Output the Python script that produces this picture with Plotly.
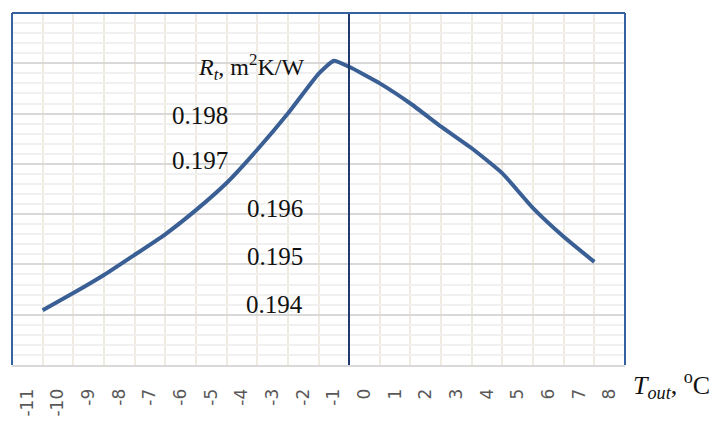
import plotly.graph_objects as go

# Tick categories along the temperature axis
t_labels = [-11, -10, -9, -8, -7, -6, -5, -4, -3, -2, -1, 0, 1, 2, 3, 4, 5, 6, 7, 8]

# Curve (x in label units, label centred on integers)
t_out = [-10.5, -9.5, -8.5, -7.5, -6.5, -5.5, -4.5, -3.5, -2.5, -1.5, -1.0,
         -0.5, 0.5, 1.5, 2.5, 3.5, 4.5, 5.5, 6.5, 7.5]
r_t = [0.19409, 0.19443, 0.19479, 0.19519, 0.19560, 0.19608, 0.19662, 0.19728,
       0.19800, 0.19879, 0.19905, 0.19893, 0.19860, 0.19820, 0.19774, 0.19731,
       0.19681, 0.19612, 0.19555, 0.19505]

# Hand-placed value labels
y_label_vals = [0.198, 0.197, 0.196, 0.195, 0.194]
y_label_text = ["0.198", "0.197", "0.196", "0.195", "0.194"]

fig = go.Figure()
fig.add_trace(go.Scatter(
    x=t_out, y=r_t, mode="lines",
    line=dict(color="#3A5F94", width=4, shape="spline", smoothing=0.45),
    hoverinfo="skip", showlegend=False,
))

serif = "Liberation Serif, Times New Roman, serif"

label_x = [-5.37, -5.37, -2.92, -2.92, -2.92]
label_yshift = [-2, 3, 6, 8, 10]
annotations = []
for v, txt, xv, ys in zip(y_label_vals, y_label_text, label_x, label_yshift):
    annotations.append(dict(x=xv, y=v, xref="x", yref="y", text=txt, showarrow=False,
                            xanchor="center", yanchor="middle", yshift=ys,
                            font=dict(family=serif, size=25, color="#111111")))

annotations.append(dict(x=-1.9, y=0.19893, xref="x", yref="y",
                        text="<i>R<sub>t</sub></i>, m<sup>2</sup>K/W", showarrow=False,
                        xanchor="right", yanchor="middle",
                        font=dict(family=serif, size=24, color="#111111")))
annotations.append(dict(x=1.0, y=0, xref="paper", yref="paper", xshift=6, yshift=-20,
                        text="<i>T<sub>out</sub></i>, <sup>o</sup>C", showarrow=False,
                        xanchor="left", yanchor="middle",
                        font=dict(family=serif, size=26, color="#111111")))

frame = "#3462A0"
shapes = [
    dict(type="line", xref="paper", yref="paper", x0=0, x1=0, y0=0, y1=1, line=dict(color=frame, width=2)),
    dict(type="line", xref="paper", yref="paper", x0=0, x1=1, y0=1, y1=1, line=dict(color=frame, width=2)),
    dict(type="line", xref="paper", yref="paper", x0=1, x1=1, y0=0, y1=1, line=dict(color=frame, width=2)),
]

fig.update_layout(
    width=712, height=421,
    margin=dict(l=12, r=87, t=13, b=56),
    paper_bgcolor="white", plot_bgcolor="white",
    annotations=annotations, shapes=shapes,
    xaxis=dict(
        range=[-11.5, 8.5], tickmode="array", tickvals=t_labels,
        ticktext=[str(v) for v in t_labels], tickangle=-90,
        tickfont=dict(family="DejaVu Sans, sans-serif", size=17, color="#595959"),
        ticks="", ticklabelstandoff=15, automargin=False,
        showgrid=False, zeroline=False,
        showline=True, linecolor="#d9d9d9", linewidth=2,
        minor=dict(tick0=-11.5, dtick=1, showgrid=True, gridcolor="#efebe1", gridwidth=2, ticks=""),
    ),
    yaxis=dict(
        range=[0.193, 0.200], dtick=0.001, tick0=0.193,
        showticklabels=False, ticks="", automargin=False,
        showgrid=True, gridcolor="#d9d9d9", gridwidth=2, zeroline=False,
        minor=dict(dtick=0.0002, showgrid=True, gridcolor="#f0f0f0", gridwidth=1.5),
        showline=True, linecolor="#1F3A6E", linewidth=1.5,
        anchor="free", position=0.55,
    ),
)

fig.write_html("out.html")
